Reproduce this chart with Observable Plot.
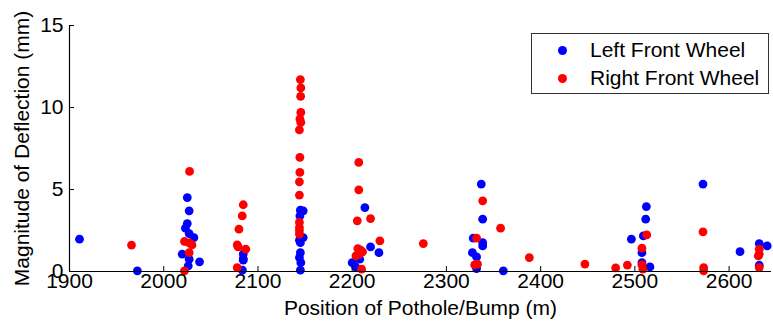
<!DOCTYPE html>
<html><head><meta charset="utf-8">
<script src="https://cdn.jsdelivr.net/npm/d3@7"></script>
<script src="https://cdn.jsdelivr.net/npm/@observablehq/plot@0.6"></script>
<style>
body{margin:0;background:#fff;}
#wrap{position:relative;width:773px;height:324px;font-family:"Liberation Sans",Arial,sans-serif;}
#legend{position:absolute;left:531px;top:33px;width:238px;height:61px;border:1px solid #333;background:#fff;box-sizing:border-box;}
.item{position:absolute;left:0;height:24px;line-height:24px;font-size:21px;color:#000;white-space:nowrap;}
.sw{position:absolute;left:26px;top:8px;width:9px;height:9px;border-radius:50%;}
.lab{position:absolute;left:58px;top:0;}
</style></head>
<body><div id="wrap"></div>
<script>
const seriesNames = ["Left Front Wheel", "Right Front Wheel"];
const seriesColors = ["#0000ff", "#ff0000"];
const xTicks = [1900, 2000, 2100, 2200, 2300, 2400, 2500, 2600];
const yTicks = [0, 5, 10, 15];
const xLabel = "Position of Pothole/Bump (m)";
const yLabel = "Magnitude of Deflection (mm)";

const leftX = [1910.6,1972,2025,2027,2025,2023,2027,2032,2019.6,2027,2026,2038,
  2084.4,2084.4,2084.4,2083.5,
  2145,2148,2144.5,2144,2148,2145,2144,2145,2145.5,2145,
  2213.5,2219.5,2228.4,2200,2203.6,2208,
  2337,2338.5,2328.5,2338.5,2338.5,2327.6,2332,2332,2360.4,
  2496.3,2512.2,2511.5,2509,2507.5,2507.5,2516,
  2572.3,2611.6,2632,2640.4,2632];
const leftY = [1.97,0.04,4.51,3.70,2.92,2.64,2.31,2.07,1.06,0.75,0.34,0.59,
  1.06,0.79,0.69,0.08,
  3.74,3.70,3.39,1.91,2.07,1.76,0.85,1.15,0.54,0.08,
  3.90,1.50,1.15,0.54,0.28,0.75,
  5.33,3.19,2.03,1.76,1.56,1.15,0.89,0.18,0.04,
  1.97,3.96,3.19,2.17,1.15,0.54,0.28,
  5.33,1.21,1.70,1.56,0.38];

const rightX = [1965.8,2027.4,2022,2030,2027,2027,2022,
  2084.4,2083.3,2079.8,2078,2079,2087,2078,
  2145,2145.5,2145.3,2145.5,2144.5,2145.5,2144,2144.5,2144.5,2144,2144,2144,2144,2144,2144,
  2207,2207,2205.4,2219.5,2229.4,2206,2209,2211,2207,2204,2210,
  2275.5,2338.5,2332,2330,2333,2357.5,2388,2447,2479.6,2492,
  2512.6,2507.5,2507.5,2508.5,
  2572.3,2573,2573,2632,2632,2631,2632];
const rightY = [1.61,6.10,1.83,1.62,1.75,1.15,0.04,
  4.07,3.39,2.58,1.62,1.50,1.36,0.24,
  11.70,11.19,10.68,9.70,9.30,9.09,8.63,6.96,6.04,5.47,4.66,2.99,2.68,2.48,2.28,
  6.65,4.98,3.09,3.23,1.87,1.40,1.30,1.20,1.05,0.95,0.14,
  1.70,4.31,2.03,0.40,0.45,2.64,0.85,0.45,0.22,0.39,
  2.23,1.42,0.40,0.14,
  2.42,0.24,0.04,1.36,1.06,0.95,0.24];

const left = leftX.map((x, i) => ({x, y: leftY[i]}));
const right = rightX.map((x, i) => ({x, y: rightY[i]}));

const W = 773, H = 324, mL = 69, mR = 2, mT = 25, mB = 53;
const font = "Liberation Sans, Arial, sans-serif";
const fmt = d3.format("d");

const plot = Plot.plot({
  width: W, height: H,
  marginLeft: mL, marginRight: mR, marginTop: mT, marginBottom: mB,
  style: {fontFamily: font, fontSize: "21px", color: "#000", background: "#fff"},
  x: {domain: [1900, 2645], label: null},
  y: {domain: [0, 15], label: null},
  marks: [
    Plot.dot(left, {x: "x", y: "y", r: 4.4, fill: seriesColors[0], stroke: "none"}),
    Plot.dot(right, {x: "x", y: "y", r: 4.4, fill: seriesColors[1], stroke: "none"}),
    Plot.ruleY([0], {stroke: "#000", strokeWidth: 1.2}),
    Plot.ruleX([1900], {stroke: "#000", strokeWidth: 1.2}),
    Plot.tickX(xTicks, {x: d => d, stroke: "#000", insetTop: H - mT - mB - 5}),
    Plot.tickY(yTicks, {y: d => d, stroke: "#000", insetRight: W - mL - mR - 5}),
    Plot.axisX({ticks: xTicks, tickFormat: fmt, tickSize: 0, tickPadding: 2, fontSize: 21, label: null}),
    Plot.axisY({ticks: yTicks, tickFormat: fmt, tickSize: 0, tickPadding: 6, fontSize: 21, label: null}),
    Plot.text([xLabel], {text: d => d, frameAnchor: "bottom", dy: 37, lineAnchor: "middle", textAnchor: "middle", fontSize: 21, fill: "#000"}),
    Plot.text([yLabel], {text: d => d, frameAnchor: "left", rotate: -90, dx: -47, lineAnchor: "middle", textAnchor: "middle", fontSize: 21, fill: "#000"})
  ]
});
const wrap = document.getElementById("wrap");
wrap.appendChild(plot);

const lg = document.createElement("div");
lg.id = "legend";
seriesNames.forEach((name, i) => {
  const it = document.createElement("div");
  it.className = "item";
  it.style.top = (4 + i * 28) + "px";
  const sw = document.createElement("span");
  sw.className = "sw";
  sw.style.background = seriesColors[i];
  const lab = document.createElement("span");
  lab.className = "lab";
  lab.textContent = name;
  it.appendChild(sw); it.appendChild(lab);
  lg.appendChild(it);
});
wrap.appendChild(lg);
</script></body></html>
